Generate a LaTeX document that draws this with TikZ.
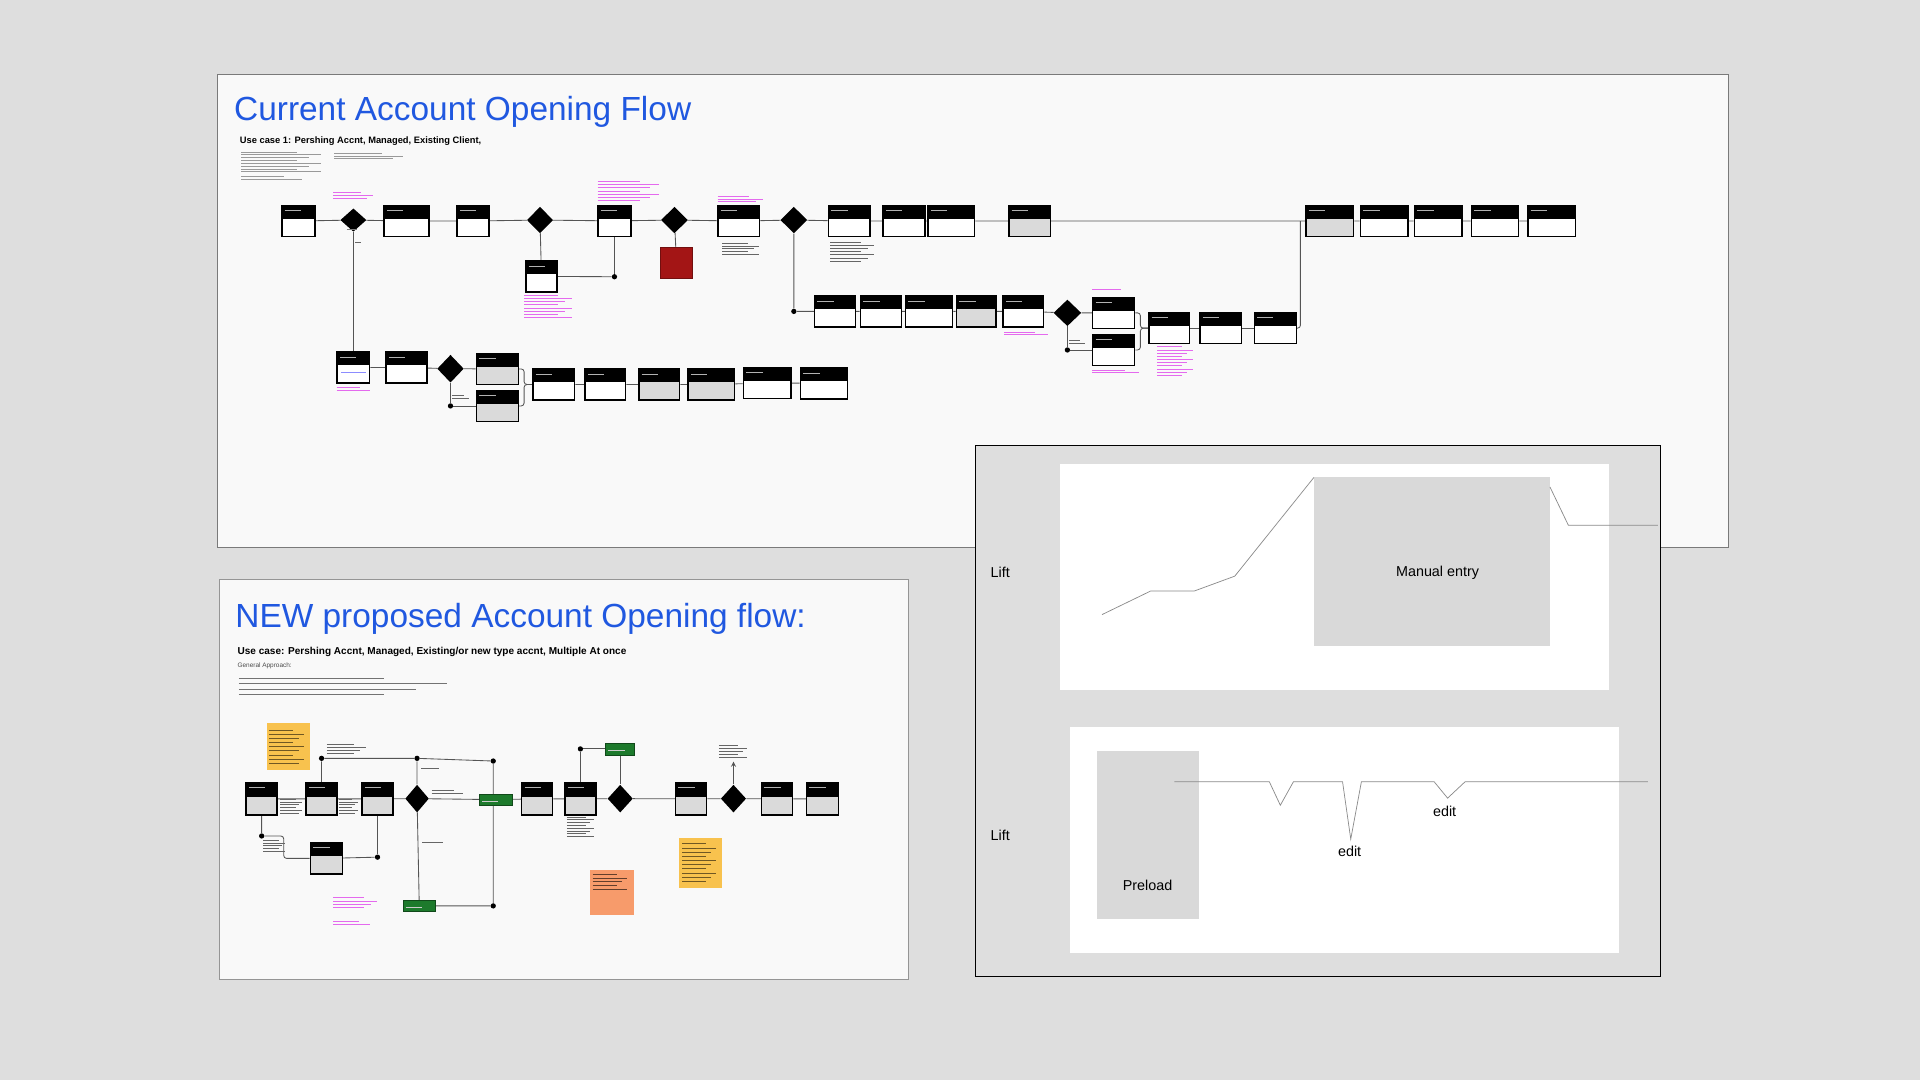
\documentclass[tikz,border=0pt]{standalone}
\usepackage{fontspec}
\setmainfont{Liberation Sans}
\usetikzlibrary{positioning,shapes.geometric}

\pgfdeclarelayer{boards}
\pgfdeclarelayer{wires}
\pgfsetlayers{boards,wires,main}

\definecolor{pagebg}{HTML}{DEDEDE}
\definecolor{boardbg}{HTML}{F9F9F9}
\definecolor{boardline}{HTML}{7A7A7A}
\definecolor{titleblue}{HTML}{2058E0}
\definecolor{boxgray}{HTML}{DADADA}
\definecolor{wirecol}{HTML}{555555}
\definecolor{notepink}{HTML}{E46AEE}
\definecolor{darkred}{HTML}{A31515}
\definecolor{stickyyellow}{HTML}{F8C24E}
\definecolor{stickyorange}{HTML}{F79B6B}
\definecolor{flowgreen}{HTML}{1D7A2C}
\definecolor{chartgray}{HTML}{D9D9D9}
\definecolor{chartline}{HTML}{8A8A8A}

% lines of unreadable small print: x, y, width, lines, spacing, colour
\newcommand{\txtlines}[6]{%
  \foreach \k in {1,...,#4}{%
    \draw[#6, line width=0.3pt] (#1,{#2+#5*(\k-1)}) -- ++({#3*(1-0.3*mod(\k+1,3)/2)},0);}}

\tikzset{
  scr/.style={draw=black, line width=1.1pt, fill=white, inner sep=0pt,
    minimum width=#1, minimum height=0.76cm,
    path picture={\fill[black] (path picture bounding box.north west) rectangle ([yshift=1.5pt]path picture bounding box.east);
      \draw[white!70!black, line width=0.4pt] ([xshift=2pt,yshift=-3.5pt]path picture bounding box.north west) -- ++(0.4cm,0);}},
  scr/.default=0.78cm,
  scrg/.style={scr=#1, fill=boxgray},
  scrg/.default=0.78cm,
  dec/.style={diamond, fill=black, inner sep=0pt},
  wire/.style={draw=wirecol, line width=0.6pt, rounded corners=2pt},
  dot/.style={circle, fill=black, inner sep=0pt, minimum size=0.13cm},
  flag/.style={fill=flowgreen, draw=flowgreen!60!black, line width=0.4pt, inner sep=0pt},
  sticky/.style={inner sep=0pt, minimum width=#1},
  lbl/.style={font=\fontsize{10}{12}\selectfont, inner sep=0pt}
}

\begin{document}
\begin{tikzpicture}[x=0.03cm, y=-0.03cm]
\useasboundingbox (0,0) rectangle (1568,882);

\begin{pgfonlayer}{boards}
\fill[pagebg] (0,0) rectangle (1568,882);
\draw[fill=boardbg, draw=boardline, line width=0.7pt] (177.5,60.5) rectangle (1411.5,447);
\draw[fill=boardbg, draw=boardline!80, line width=0.7pt] (179,473.5) rectangle (742,800);
\end{pgfonlayer}

% ---------- current flow ----------
\node[anchor=base west, text=titleblue, font=\fontsize{23.3}{27}\selectfont, inner sep=0pt] (title1) at (191,98) {Current Account Opening Flow};
\node[anchor=base west, font=\bfseries\fontsize{6.5}{8}\selectfont, inner sep=0pt] (case1) at (195.7,117) {Use case 1: Pershing Accnt, Managed, Existing Client,};
\txtlines{197}{124}{65}{8}{2.3}{black!40}
\txtlines{197}{144}{50}{2}{2.3}{black!40}
\txtlines{273}{125}{56}{3}{2.3}{black!40}

% main row
\node[scr=0.81cm] (a1) at (243.7,180.5) {};
\node[dec, minimum width=0.64cm, minimum height=0.57cm] (d1) at (288.6,179.7) {};
\node[scr=1.1cm] (a2) at (331.9,180.5) {};
\node[scr=0.78cm] (a3) at (386.2,180.5) {};
\node[dec, minimum width=0.64cm, minimum height=0.65cm] (d2) at (441,179.7) {};
\node[scr=0.8cm] (a4) at (501.8,180.4) {};
\node[dec, minimum width=0.66cm, minimum height=0.65cm] (d3) at (550.8,179.7) {};
\node[scr=1.02cm] (a5) at (603.4,180.5) {};
\node[dec, minimum width=0.66cm, minimum height=0.65cm] (d4) at (648.3,179.7) {};
\node[scr=1.02cm] (a6) at (693.6,180.5) {};
\node[scr=1.02cm] (a7) at (738.2,180.5) {};
\node[scr=1.14cm] (a8) at (777,180.5) {};
\node[scrg=1.02cm] (a9) at (840.8,180.5) {};
\node[scrg=1.17cm] (a10) at (1085.9,180.5) {};
\node[scr=1.16cm] (a11) at (1130.3,180.5) {};
\node[scr=1.16cm] (a12) at (1174.4,180.5) {};
\node[scr=1.16cm] (a13) at (1220.9,180.5) {};
\node[scr=1.17cm] (a14) at (1267.2,180.5) {};

\node[scr=0.77cm] (b1) at (442.2,225.7) {};
\node[dot] (j1) at (501.8,226) {};
\node[fill=darkred, draw=darkred!70!black, line width=0.5pt, minimum width=0.77cm, minimum height=0.77cm, inner sep=0pt] (stop1) at (552.5,214.8) {};

% second row
\node[dot] (j2) at (648.3,254.3) {};
\node[scr=1.0cm] (c1) at (681.9,254.3) {};
\node[scr=1.0cm] (c2) at (719.4,254.3) {};
\node[scr=1.15cm] (c3) at (758.7,254.3) {};
\node[scrg=0.97cm] (c4) at (797.2,254.3) {};
\node[scr=0.99cm] (c5) at (835.8,254.3) {};
\node[dec, minimum width=0.68cm, minimum height=0.65cm] (d5) at (871.7,255.5) {};
\node[scr=1.03cm] (c6) at (909.5,255.5) {};
\node[scr=1.03cm] (c7) at (909.5,285.8) {};
\node[dot] (j3) at (871.7,285.8) {};
\node[scr=1.0cm] (c8) at (954.8,268) {};
\node[scr=1.01cm] (c9) at (996.9,268) {};
\node[scr=1.03cm] (c10) at (1041.5,268) {};
\coordinate (k1) at (1062,180.5);

% third row
\node[scr=0.79cm] (e1) at (288.6,300.1) {};
\draw[blue!45, line width=0.6pt] ([xshift=-0.3cm,yshift=-0.12cm]e1.center) -- ++(0.6cm,0);
\node[scr=1.01cm] (e2) at (332.1,300.1) {};
\node[dec, minimum width=0.65cm, minimum height=0.68cm] (d6) at (367.9,301.1) {};
\node[scrg=1.03cm] (e3) at (406.2,301.3) {};
\node[scrg=1.03cm] (e4) at (406.2,331.5) {};
\node[dot] (j4) at (367.9,331.5) {};
\node[scr=1.02cm] (e5) at (452.2,314) {};
\node[scr=0.99cm] (e6) at (494.4,314) {};
\node[scrg=1.0cm] (e7) at (538.4,314) {};
\node[scrg=1.14cm] (e8) at (580.9,314) {};
\node[scr=1.17cm] (e9) at (626.6,312.8) {};
\node[scr=1.15cm] (e10) at (672.9,313) {};

\begin{pgfonlayer}{wires}
\draw[wire] (a1) -- (d1) -- (a2) -- (a3) -- (d2) -- (a4) -- (d3) -- (a5) -- (d4) -- (a6) -- (a7) -- (a8) -- (a9) -- (a10) -- (a11) -- (a12) -- (a13) -- (a14);
\draw[wire] (d1) -- (e1);
\draw[wire] (d2) -- (b1);
\draw[wire] (b1) -- (j1) -- (a4);
\draw[wire] (d3) -- (stop1);
\draw[wire] (d4) -- (j2) -- (c1) -- (c2) -- (c3) -- (c4) -- (c5) -- (d5) -- (c6);
\draw[wire] (d5) -- (j3) -- (c7);
\draw[wire] (c6.east) -- ++(4,0) |- (c8.west);
\draw[wire] (c7.east) -- ++(4,0) |- (c8.west);
\draw[wire] (c8) -- (c9) -- (c10);
\draw[wire] (c10.east) -| (k1);
\draw[wire] (e1) -- (e2) -- (d6) -- (e3);
\draw[wire] (d6) -- (j4) -- (e4);
\draw[wire] (e3.east) -- ++(4,0) |- (e5.west);
\draw[wire] (e4.east) -- ++(4,0) |- (e5.west);
\draw[wire] (e5) -- (e6) -- (e7) -- (e8) -- (e9) -- (e10);
\end{pgfonlayer}

% notes of the current flow
\txtlines{272}{157}{33}{3}{2.3}{notepink}
\txtlines{488}{148}{50}{7}{2.6}{notepink}
\txtlines{586}{160}{37}{3}{2.3}{notepink}
\txtlines{428}{241}{39}{8}{2.6}{notepink}
\txtlines{275}{316}{27}{2}{2.3}{notepink}
\txtlines{820}{271}{36}{2}{2.3}{notepink}
\txtlines{892}{236.5}{33}{1}{2.3}{notepink}
\txtlines{892}{302}{38}{2}{2.3}{notepink}
\txtlines{945}{283}{29}{10}{2.6}{notepink}
\txtlines{590}{198.5}{30}{5}{2.3}{black!60}
\txtlines{678}{198}{36}{7}{2.5}{black!60}
\txtlines{369}{323}{14}{2}{2.3}{black!60}
\txtlines{873}{278}{13}{2}{2.3}{black!60}
\txtlines{283}{187}{12}{1}{2.3}{black!50}
\txtlines{290}{198}{7}{1}{2.3}{black!60}

% ---------- proposed flow ----------
\node[anchor=base west, text=titleblue, font=\fontsize{23.3}{27}\selectfont, inner sep=0pt] (title2) at (192,512.3) {NEW proposed Account Opening flow:};
\node[anchor=base west, font=\bfseries\fontsize{7}{8}\selectfont, inner sep=0pt] (case2) at (193.8,534.1) {Use case: Pershing Accnt, Managed, Existing/or new type accnt, Multiple At once};
\node[anchor=base west, font=\fontsize{4.5}{5}\selectfont, text=black!70, inner sep=0pt] (approach) at (193.8,545) {General Approach:};
\txtlines{195}{554}{170}{4}{4.3}{black!55}

\node[sticky=1.07cm, minimum height=1.14cm, fill=stickyyellow] (s1) at (235.5,609.8) {};
\txtlines{220}{596}{28}{9}{3.4}{stickyyellow!45!black}
\node[sticky=1.08cm, minimum height=1.1cm, fill=stickyorange] (s2) at (499.5,728.9) {};
\txtlines{484}{714}{28}{5}{3.0}{stickyorange!40!black}
\node[sticky=1.06cm, minimum height=1.22cm, fill=stickyyellow] (s3) at (572.1,705) {};
\txtlines{557}{689}{28}{10}{3.4}{stickyyellow!45!black}

\node[scrg=0.76cm, minimum height=0.79cm] (f1) at (213.7,652.4) {};
\node[scrg=0.76cm, minimum height=0.79cm] (f2) at (262.6,652.4) {};
\node[scrg=0.76cm, minimum height=0.79cm] (f3) at (308.3,652.4) {};
\node[dec, minimum width=0.58cm, minimum height=0.68cm] (d7) at (340.6,652.2) {};
\node[flag, minimum width=0.79cm, minimum height=0.26cm] (g1) at (404.8,653) {};
\node[scrg=0.76cm, minimum height=0.79cm] (f4) at (438.7,652.4) {};
\node[scrg=0.76cm, minimum height=0.79cm] (f5) at (474,652.4) {};
\node[dec, minimum width=0.62cm, minimum height=0.68cm] (d8) at (506.5,652.2) {};
\node[scrg=0.76cm, minimum height=0.79cm] (f6) at (564.4,652.4) {};
\node[dec, minimum width=0.62cm, minimum height=0.68cm] (d9) at (599,652.2) {};
\node[scrg=0.76cm, minimum height=0.79cm] (f7) at (634.6,652.4) {};
\node[scrg=0.78cm, minimum height=0.79cm] (f8) at (671.7,652.4) {};
\node[scrg=0.78cm, minimum height=0.77cm] (f9) at (266.6,701) {};
\node[flag, minimum width=0.8cm, minimum height=0.28cm] (g2) at (342.4,739.8) {};
\node[flag, minimum width=0.71cm, minimum height=0.3cm] (g3) at (506.5,611.6) {};
\node[dot] (m1) at (262.6,619.3) {};
\node[dot] (m2) at (340.6,619.3) {};
\node[dot] (m3) at (402.8,621.5) {};
\node[dot] (m4) at (402.8,739.8) {};
\node[dot] (m5) at (213.7,682.7) {};
\node[dot] (m6) at (308.3,700) {};
\node[dot] (m7) at (474,611.6) {};
\coordinate (q1) at (599,622);

\begin{pgfonlayer}{wires}
\draw[wire] (f1) -- (f2) -- (f3) -- (d7) -- (g1) -- (f4) -- (f5) -- (d8) -- (f6) -- (d9) -- (f7) -- (f8);
\draw[wire] (f2) -- (m1) -- (m2) -- (m3) -- (m4) -- (g2);
\draw[wire] (m2) -- (d7) -- (g2);
\draw[wire] (f1) -- (m5) -- ++(18,0) |- (f9.west);
\draw[wire] (f9) -- (m6) -- (f3);
\draw[wire] (f5) -- (m7) -- (g3) -- (d8);
\draw[wire, -stealth] (d9) -- (q1);
\end{pgfonlayer}

\foreach \g in {g1,g2,g3}
  \draw[white!80!black, line width=0.3pt] ([xshift=2pt,yshift=-1.2pt]\g.west) -- ++(0.4cm,0);

\txtlines{267}{608}{32}{4}{2.4}{black!60}
\txtlines{229}{652.5}{18}{6}{2.3}{black!60}
\txtlines{276.6}{652.5}{16}{6}{2.3}{black!60}
\txtlines{215}{686}{18}{5}{2.3}{black!60}
\txtlines{352.5}{645}{26}{2}{2.4}{black!60}
\txtlines{345}{687.5}{24}{1}{2.3}{black!60}
\txtlines{344}{627.5}{21}{1}{2.3}{black!60}
\txtlines{463}{667}{22}{8}{2.3}{black!60}
\txtlines{587}{608.5}{23}{5}{2.4}{black!60}
\txtlines{272}{733}{36}{4}{2.6}{notepink}
\txtlines{272}{752}{30}{2}{2.6}{notepink}

% ---------- lift charts ----------
\draw[fill=pagebg, draw=black, line width=0.6pt] (796.5,364) rectangle (1356,797.5);
\fill[white] (865.6,378.8) rectangle (1313.7,563.7);
\fill[white] (874.2,593.3) rectangle (1322.3,778.4);
\fill[chartgray] (1073,389.9) rectangle (1265.8,527.8);
\fill[chartgray] (895.6,613.7) rectangle (979.2,750.4);
\draw[chartline, line width=0.5pt] (900,501.9) -- (939.6,482.7) -- (975.2,482.7) -- (1008.4,470.5) -- (1073,389.9);
\draw[chartline, line width=0.5pt] (1265.8,397.7) -- (1280.8,428.9) -- (1354,428.9);
\draw[chartline, line width=0.5pt] (959,638.4) -- (1036.6,638.4) -- (1045.6,657.6) -- (1056.3,638.4) -- (1096.4,638.4) -- (1103.1,685.3) -- (1111.8,638.4) -- (1171.2,638.4) -- (1182.2,651.8) -- (1196.5,638.4) -- (1345.7,638.4);
\node[lbl] (lift1) at (816.8,467.5) {Lift};
\node[lbl] (lift2) at (816.8,682.1) {Lift};
\node[lbl] (manual) at (1174,467.5) {Manual entry};
\node[lbl] (preload) at (937.2,722.8) {Preload};
\node[lbl] (edit1) at (1102.2,694.9) {edit};
\node[lbl] (edit2) at (1179.8,662.6) {edit};
\end{tikzpicture}
\end{document}
